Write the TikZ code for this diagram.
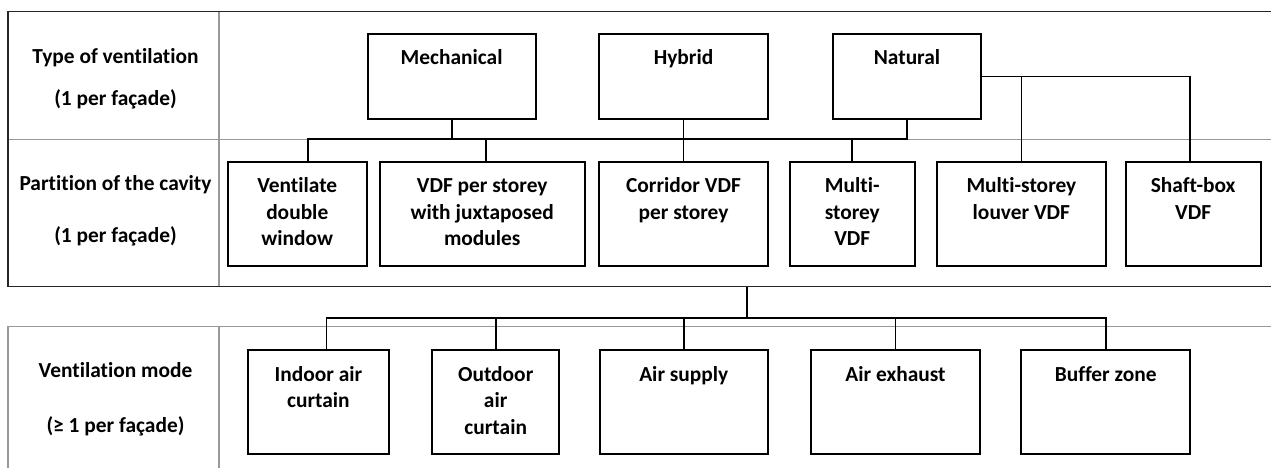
\documentclass[tikz,border=0pt]{standalone}
\usepackage{fontspec}
\setmainfont{Carlito}[Ligatures={NoCommon}]

\begin{document}
\begin{tikzpicture}[x=0.5pt,y=-0.5pt,
        font=\fontsize{10.7pt}{13.25pt}\selectfont\bfseries,
        box/.style={draw,line width=1pt,anchor=north west,inner sep=0pt,align=flush center,text height=15.5pt},
        topbox/.style={box,text width=#1,text depth=27.3pt},
        cellbox/.style={box,text width=#1,text depth=36.5pt},
        link/.style={line width=0.9pt},
        frame/.style={line width=0.75pt,black!85},
        tabline/.style={line width=0.7pt,gray!80}]
        \useasboundingbox (0,0) rectangle (1271,468);
        \draw[tabline] (219,11.7)--(219,286.7);
        \draw[tabline] (8,139.3)--(1271,139.3);
        \draw[tabline] (1271,326.7)--(8,326.7)--(8,468);
        \draw[tabline] (219,326.7)--(219,468);
        \draw[frame] (1271,11.7)--(8,11.7)--(8,286.7)--(1271,286.7);
        \node[anchor=base] (typeA) at (115.5,63.5) {Type of ventilation};
        \node[anchor=base] (typeB) at (115.5,105) {(1 per façade)};
        \node[anchor=base] (partA) at (115.5,190.7) {Partition of the cavity};
        \node[anchor=base] (partB) at (115.5,242.7) {(1 per façade)};
        \node[anchor=base] (modeA) at (115.5,377.7) {Ventilation mode};
        \node[anchor=base] (modeB) at (115.5,432.3) {(≥ 1 per façade)};
        \node[topbox=84.1pt] (mech) at (366.5,32.7) {Mechanical};
        \node[topbox=84.5pt] (hyb) at (598,32.7) {Hybrid};
        \node[topbox=74.4pt] (nat) at (831.6,32.7) {Natural};
        \foreach \n/\x/\w/\t in {vent/226.5/69.75pt/{Ventilate\\double\\window},
                vdf/378.8/102.45pt/{VDF per storey\\with juxtaposed\\modules},
                corr/598/84.5pt/{Corridor VDF\\per storey},
                multi/788.6/62.7pt/{Multi-\\storey\\VDF},
                louv/935.8/84.6pt/{Multi-storey\\louver VDF},
                shaft/1124.7/67.45pt/{Shaft-box\\VDF}} {
            \node[cellbox=\w] (\n) at (\x,160.7) {\t};
        }
        \foreach \n/\x/\w/\t in {indoor/247/70.4pt/{Indoor air\\curtain},
                outdoor/431.4/63.3pt/{Outdoor\\air\\curtain},
                supply/598.8/84pt/{Air supply},
                exhaust/810.3/84.2pt/{Air exhaust},
                buffer/1020.4/84.25pt/{Buffer zone}} {
            \node[cellbox=\w] (\n) at (\x,349.3) {\t};
        }
        \coordinate (bus) at (0,139.3);
        \coordinate (split) at (747.3,286.7);
        \coordinate (fork) at (747.3,318.3);
        \draw[link] ([xshift=5.5pt]vent.north)--++(0,-21.4)-|(nat.south);
        \draw[link] (mech)--(mech |- bus);
        \draw[link] ([xshift=2pt]vdf.north)--++(0,-21.4);
        \draw[link] (hyb)--(corr);
        \draw[link] (multi)--(multi |- bus);
        \draw[link] (nat.east)-|([xshift=-1.5pt]shaft.north);
        \draw[link] (louv)--(louv |- nat.east);
        \draw[link] (split)--(fork);
        \draw[link] ([xshift=4pt]indoor.north)--++(0,-31)-|(buffer.north);
        \foreach \n in {outdoor,supply,exhaust} {
            \draw[link] (\n)--(\n |- fork);
        }
    \end{tikzpicture}
\end{document}
